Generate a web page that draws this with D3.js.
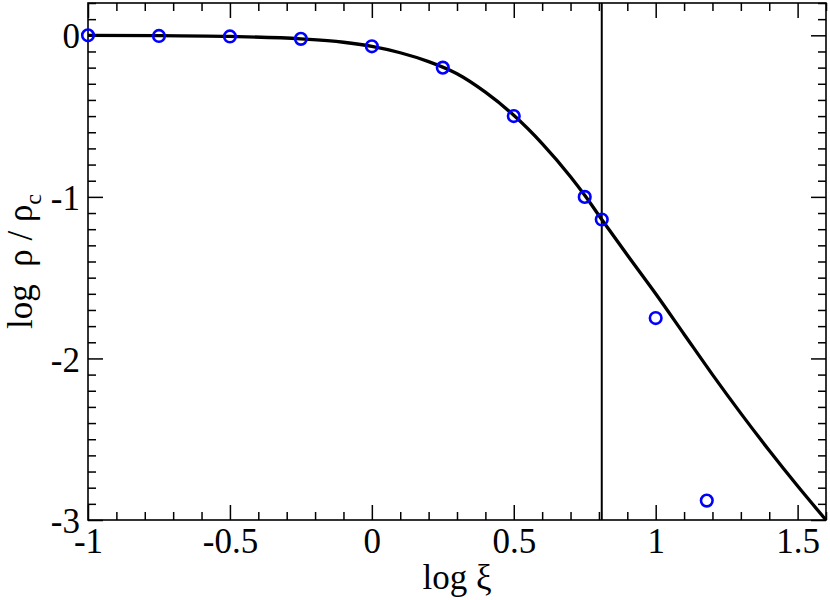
<!DOCTYPE html>
<html>
<head>
<meta charset="utf-8">
<script src="https://cdn.jsdelivr.net/npm/d3@7/dist/d3.min.js"></script>
<style>
  body { margin: 0; background: #fff; }
  svg { display: block; }
  text { font-family: "Liberation Serif", "DejaVu Serif", serif; fill: #000; }
</style>
</head>
<body>
<script>
'use strict';

// isothermal sphere profile
const curveLogXi = [-1, -0.75, -0.5, -0.25, -0.1, 0, 0.1, 0.2, 0.3, 0.4, 0.5, 0.6, 0.7, 0.75, 0.81, 0.9, 1.0, 1.1, 1.2, 1.3, 1.4, 1.5, 1.6];
const curveLogRho = [-0.001, -0.002, -0.007, -0.022, -0.043, -0.069, -0.108, -0.163, -0.238, -0.352, -0.495, -0.67, -0.875, -0.99, -1.14, -1.36, -1.6, -1.85, -2.1, -2.34, -2.57, -2.79, -3.0];

// open circles
const pointLogXi = [-1, -0.75, -0.5, -0.25, 0, 0.25, 0.5, 0.75, 0.81, 1.0, 1.18];
const pointLogRho = [0, -0.004, -0.007, -0.022, -0.068, -0.2, -0.5, -1.0, -1.14, -1.75, -2.88];

// vertical marker
const markerLogXi = 0.81;

// tick labels
const xTicks = [-1, -0.5, 0, 0.5, 1, 1.5];
const yTicks = [-3, -2, -1, 0];

const m = {
  width: 830,
  height: 600,
  left: 88,
  right: 826,
  top: 3,
  bottom: 520
};

const svg = d3.select('body')
  .append('svg')
  .attr('width', m.width)
  .attr('height', m.height);

const xScale = d3.scaleLinear().domain([-1, 1.6]).range([m.left, m.right]);
const yScale = d3.scaleLinear().domain([-3, 0.2]).range([m.bottom, m.top]);

drawAxes();
drawData();
drawLabels();

function drawAxes() {
  const xMinor = d3.range(-10, 17).map((d) => d / 10).filter((d) => !xTicks.includes(d));
  const yMinor = d3.range(-30, 3).map((d) => d / 10).filter((d) => !yTicks.includes(d));

  // bottom, with labels
  svg.append('g')
    .attr('transform', 'translate(0,' + m.bottom + ')')
    .call(d3.axisBottom(xScale).tickValues(xTicks).tickSize(-15).tickPadding(8).tickFormat((d) => String(d)));
  svg.append('g')
    .attr('transform', 'translate(0,' + m.bottom + ')')
    .call(d3.axisBottom(xScale).tickValues(xMinor).tickSize(-8).tickFormat(''));

  // top
  svg.append('g')
    .attr('transform', 'translate(0,' + m.top + ')')
    .call(d3.axisTop(xScale).tickValues(xTicks).tickSize(-15).tickFormat(''));
  svg.append('g')
    .attr('transform', 'translate(0,' + m.top + ')')
    .call(d3.axisTop(xScale).tickValues(xMinor).tickSize(-8).tickFormat(''));

  // left, with labels
  const gL = svg.append('g')
    .attr('transform', 'translate(' + m.left + ',0)')
    .call(d3.axisLeft(yScale).tickValues(yTicks).tickSize(-15).tickPadding(8).tickFormat((d) => String(d)));
  svg.append('g')
    .attr('transform', 'translate(' + m.left + ',0)')
    .call(d3.axisLeft(yScale).tickValues(yMinor).tickSize(-8).tickFormat(''));

  // right
  svg.append('g')
    .attr('transform', 'translate(' + m.right + ',0)')
    .call(d3.axisRight(yScale).tickValues(yTicks).tickSize(-15).tickFormat(''));
  svg.append('g')
    .attr('transform', 'translate(' + m.right + ',0)')
    .call(d3.axisRight(yScale).tickValues(yMinor).tickSize(-8).tickFormat(''));

  svg.selectAll('.domain').remove();
  svg.selectAll('.tick line').attr('stroke', '#000').attr('stroke-width', 1.5);
  svg.selectAll('.tick text')
    .style('font-family', '"Liberation Serif", serif')
    .style('font-size', '35px')
    .attr('fill', '#000');
  gL.selectAll('.tick text').attr('dy', '0.36em');

  // frame
  svg.append('rect')
    .attr('x', m.left)
    .attr('y', m.top)
    .attr('width', m.right - m.left)
    .attr('height', m.bottom - m.top)
    .attr('fill', 'none')
    .attr('stroke', '#000')
    .attr('stroke-width', 1.6);
}

function drawData() {
  svg.append('clipPath')
    .attr('id', 'plot-clip')
    .append('rect')
    .attr('x', m.left)
    .attr('y', m.top)
    .attr('width', m.right - m.left)
    .attr('height', m.bottom - m.top);

  // vertical line
  svg.append('line')
    .attr('x1', xScale(markerLogXi))
    .attr('x2', xScale(markerLogXi))
    .attr('y1', m.bottom)
    .attr('y2', m.top)
    .attr('stroke', '#000')
    .attr('stroke-width', 2);

  const line = d3.line()
    .x((d) => xScale(d[0]))
    .y((d) => yScale(d[1]))
    .curve(d3.curveMonotoneX);

  svg.append('path')
    .datum(curveLogXi.map((x, i) => [x, curveLogRho[i]]))
    .attr('clip-path', 'url(#plot-clip)')
    .attr('d', line)
    .attr('fill', 'none')
    .attr('stroke', '#000')
    .attr('stroke-width', 3.3);

  svg.selectAll('.dot')
    .data(pointLogXi.map((x, i) => [x, pointLogRho[i]]))
    .enter()
    .append('circle')
    .attr('class', 'dot')
    .attr('cx', (d) => xScale(d[0]))
    .attr('cy', (d) => yScale(d[1]))
    .attr('r', 5.8)
    .attr('fill', 'none')
    .attr('stroke', '#0000ff')
    .attr('stroke-width', 2.6);
}

function drawLabels() {
  svg.append('text')
    .attr('x', (m.left + m.right) / 2)
    .attr('y', 589)
    .attr('text-anchor', 'middle')
    .style('font-size', '35px')
    .text('log\u00a0ξ');

  const yl = svg.append('text')
    .attr('transform', 'translate(32,' + ((m.top + m.bottom) / 2) + ')rotate(-90)')
    .attr('text-anchor', 'middle')
    .style('font-size', '35px');
  yl.append('tspan').text('log\u00a0\u00a0ρ\u00a0/\u00a0ρ');
  yl.append('tspan')
    .attr('dy', 9)
    .style('font-size', '24px')
    .text('c');
}
</script>
</body>
</html>
